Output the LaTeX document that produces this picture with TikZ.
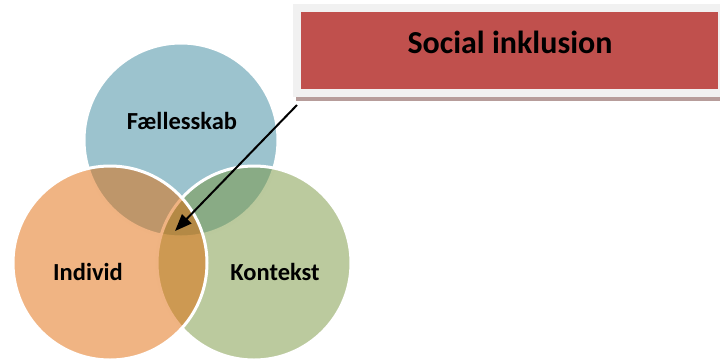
\documentclass[tikz,border=0pt]{standalone}
\usepackage{fontspec}
\setmainfont{Carlito}
\usetikzlibrary{arrows.meta}
\definecolor{blueC}{HTML}{39879D}
\definecolor{greenC}{HTML}{77953D}
\definecolor{orangeC}{HTML}{E16907}
\definecolor{redC}{HTML}{C0504D}
\definecolor{frameC}{HTML}{F1F1F1}
\definecolor{shadowC}{HTML}{B79D9B}
\tikzset{
  venn/.style={circle, minimum size=194bp, inner sep=0pt, fill opacity=0.5, draw=white, draw opacity=1, line width=3bp},
  vlabel/.style={font=\fontsize{24.5bp}{29bp}\selectfont\bfseries, text=black},
  title/.style={font=\fontsize{32bp}{37bp}\selectfont\bfseries, text=black},
  pointer/.style={-{Triangle[length=17bp,width=13bp]}, line width=2bp, black}
}
\begin{document}
\begin{tikzpicture}[x=1bp,y=-1bp]
\useasboundingbox (0,0) rectangle (720,358);
% Venn circles (order: blue, green, orange)
\node[venn, fill=blueC] (fc) at (181,140) {};
\node[venn, fill=greenC] (kc) at (254,263) {};
\node[venn, fill=orangeC] (ic) at (110,263) {};
% labels
\node[vlabel] (fl) at (182,121) {Fællesskab};
\node[vlabel] (il) at (88,272) {Individ};
\node[vlabel] (kl) at (275,272) {Kontekst};
% title box
\fill[frameC] (293,4) rectangle (725,97);
\fill[shadowC] (296,97) rectangle (725,101);
\node[fill=redC, minimum width=417bp, minimum height=77bp, inner sep=0pt, anchor=north west] (box) at (301,12) {};
\node[title] (tl) at (510,42) {Social inklusion};
% arrow
\coordinate (start) at (297,105);
\coordinate (tip) at (175,231);
\draw[pointer] (start) -- (tip);
\end{tikzpicture}
\end{document}
